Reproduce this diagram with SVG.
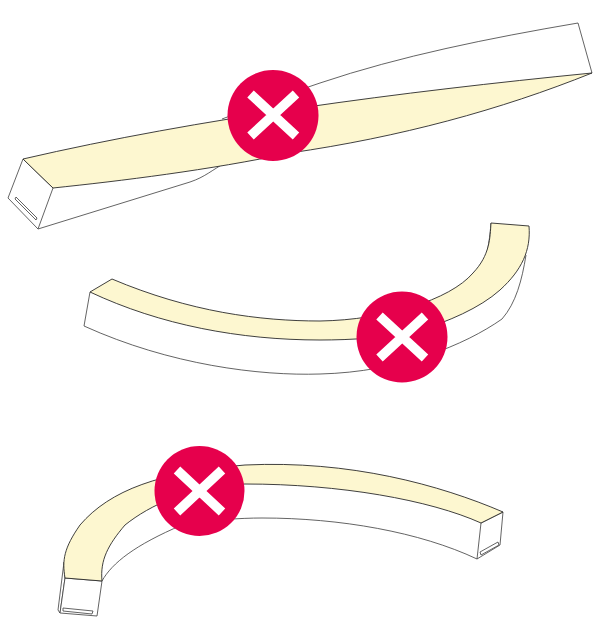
<svg xmlns="http://www.w3.org/2000/svg" width="597" height="630" viewBox="0 0 597 630">
<style>
.l{fill:none;stroke:#3c3c3c;stroke-width:.8;stroke-linejoin:round}
.f{fill:#fff;stroke:#3c3c3c;stroke-width:.8;stroke-linejoin:round}
.c{fill:#fdf7d0;stroke:#2a2a2a;stroke-width:.9;stroke-linejoin:round}
.b{fill:#e6004c}
.x{stroke:#fff;stroke-width:9.500;fill:none}
</style>
<rect width="597" height="630" fill="#fff"/>
<g id="beam-twisted">
<path class="l" d="M38 229 L190 182 C205 177 212 170 225 163"/>
<path class="l" d="M222 119 C260 105 290 93 320 83 C400 56 490 38 578 23 L592 73"/>
<path class="f" d="M23 159 L8 198 L38 229 L53 188 Z"/>
<path class="f" d="M16 197 L37 218 L36 220 L15 199 Z"/>
<path class="c" d="M23 159 C200 118 400 92 592 73 C500 110 400 137 290 153 C210 170 120 181 53 188 Z"/>
</g>
<g id="beam-bent-flat">
<path class="l" d="M90 292 L84 326 C170 365 260 376 320 374 C400 372 465 345 502 319 C516 303 522 280 526 255"/>
<path class="l" d="M491 223 C490 235 489 243 487 252"/>
<path class="c" d="M90 292 L112 279 C190 312 260 321 320 321 C385 320 450 300 473 273 C490 255 490 238 491 223 L529 226 C531 250 522 270 500 290 C480 308 447 322 420 330 C390 338 350 340 320 340 C240 340 160 325 90 292 Z"/>
</g>
<g id="beam-bent-upright">
<path class="l" d="M102 581 C112 563 135 545 182 525 C210 520 240 518 262 518 C340 518 420 532 477 559"/>
<path class="f" d="M64 562 L58 610 L60 613 L65 578 Z"/>
<path class="f" d="M65 578 L60 613 L97 616 L102 581 Z"/>
<path class="f" d="M63 608 L93 611 L92 614 L63 611 Z"/>
<path class="f" d="M481 523 L477 559 L500 545 L503 512 Z"/>
<path class="f" d="M480 552 L498 542 L499 545 L481 555 Z"/>
<path class="c" d="M65 578 C62 560 64 548 80 525 C110 490 160 472 245 465 C350 460 440 485 503 512 L481 523 C430 500 340 484 245 484 C190 486 150 505 125 525 C108 545 100 560 102 581 Z"/>
</g>
<g id="mark-1"><circle class="b" cx="273" cy="115.500" r="45.500"/><path class="x" d="M250.500 94 L296 136 M296 94 L250.500 136"/></g>
<g id="mark-2"><circle class="b" cx="402" cy="337" r="45.500"/><path class="x" d="M379.500 316 L425 358 M425 316 L379.500 358"/></g>
<g id="mark-3"><circle class="b" cx="199.500" cy="491" r="45"/><path class="x" d="M177 470 L222 512 M222 470 L177 512"/></g>
</svg>
